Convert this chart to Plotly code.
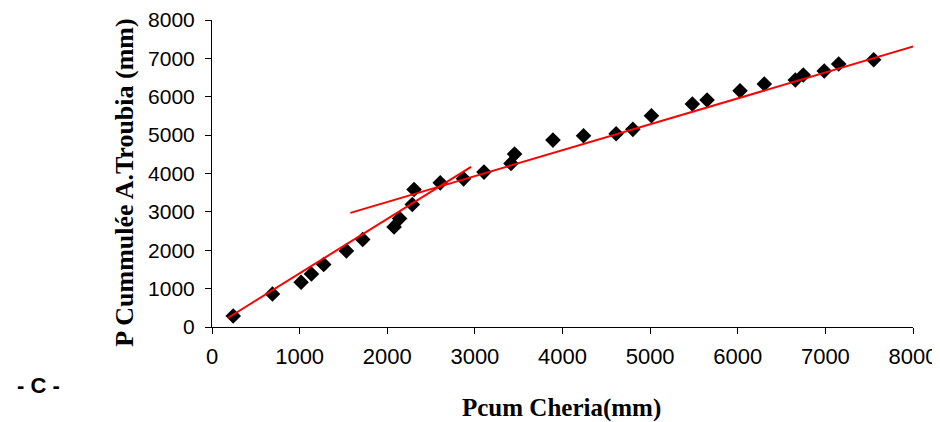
import plotly.graph_objects as go

# Observed data (Pcum Cheria vs P cumulée A.Troubia), mm
cheria = [242, 690, 1017, 1135, 1275, 1534, 1720, 2078, 2141, 2286, 2306, 2605,
          2871, 3104, 3412, 3453, 3891, 4240, 4612, 4803, 5015, 5482, 5650, 6026,
          6303, 6657, 6748, 6987, 7152, 7551]
troubia = [287, 861, 1166, 1383, 1628, 1983, 2280, 2609, 2828, 3193, 3585, 3757,
           3861, 4036, 4263, 4506, 4871, 4983, 5035, 5150, 5505, 5810, 5915, 6157,
           6332, 6436, 6566, 6671, 6854, 6966]

# Trend line endpoints
trend1_x = [180, 2956]
trend1_y = [235, 4174]
trend2_x = [1579, 8173]
trend2_y = [2974, 7425]

ticks = [0, 1000, 2000, 3000, 4000, 5000, 6000, 7000, 8000]

fig = go.Figure()
fig.add_trace(go.Scatter(x=cheria, y=troubia, mode="markers",
                         marker=dict(symbol="diamond", size=12, color="black"),
                         showlegend=False, cliponaxis=False))
fig.add_trace(go.Scatter(x=trend1_x, y=trend1_y, mode="lines",
                         line=dict(color="#ff0000", width=2), showlegend=False,
                         cliponaxis=False))
fig.add_trace(go.Scatter(x=trend2_x, y=trend2_y, mode="lines",
                         line=dict(color="#ff0000", width=2), showlegend=False,
                         cliponaxis=False))

axis_common = dict(showgrid=False, zeroline=False, showline=True, linecolor="black",
                   linewidth=1, ticks="outside", ticklen=6, tickcolor="black",
                   tickwidth=1, range=[0, 8000], tickvals=ticks, automargin=False,
                   ticktext=[str(t) for t in ticks])

# page has an 8px body margin; figure sized to fill the 940x422 window
fig.update_layout(
    width=932, height=414,
    margin=dict(l=204, r=27, t=12, b=95),
    paper_bgcolor="white", plot_bgcolor="white",
    font=dict(family="Liberation Sans, Arial", color="black"),
    xaxis=dict(**axis_common, tickfont=dict(size=22, family="Liberation Sans, Arial"),
               ticklabelstandoff=4),
    yaxis=dict(**axis_common, tickfont=dict(size=21, family="Liberation Sans, Arial"),
               ticklabelstandoff=6),
    annotations=[
        dict(text="<b>Pcum Cheria(mm)</b>", xref="paper", yref="paper",
             x=0.4985, y=-0.265, xanchor="center", yanchor="middle", showarrow=False,
             font=dict(family="Liberation Serif, Times New Roman", size=25, color="black")),
        dict(text="<b>P Cummulée A.Troubia (mm)</b>", xref="paper", yref="paper",
             x=-0.1248, y=0.4685, xanchor="center", yanchor="middle", showarrow=False,
             textangle=-90,
             font=dict(family="Liberation Serif, Times New Roman", size=26, color="black")),
        dict(text="<b>- C -</b>", xref="paper", yref="paper",
             x=-0.2475, y=-0.19, xanchor="center", yanchor="middle", showarrow=False,
             font=dict(family="Liberation Sans, Arial", size=22, color="black")),
    ],
)

fig.write_html("out.html")
